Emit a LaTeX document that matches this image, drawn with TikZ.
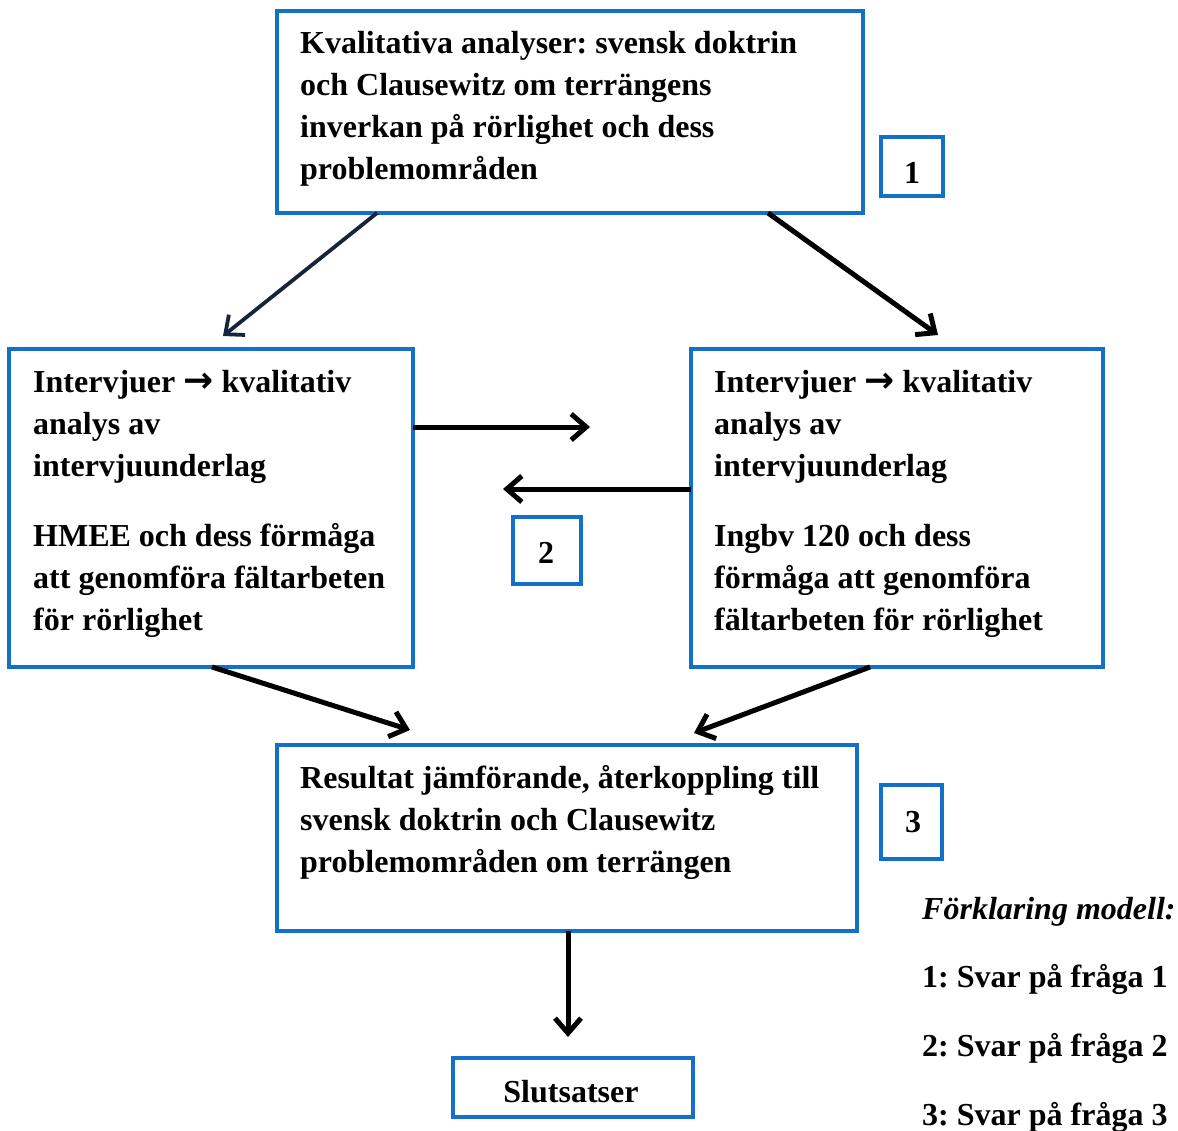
\documentclass[tikz,border=0pt]{standalone}
\usepackage{fontspec}
\setmainfont{Liberation Serif}
\newfontfamily\arrowfont{DejaVu Sans}
\usetikzlibrary{arrows.meta}
\definecolor{boxblue}{RGB}{18,112,200}
\definecolor{navyink}{RGB}{25,35,60}
\frenchspacing
\begin{document}
\frenchspacing
\begin{tikzpicture}[x=1pt,y=-1pt,
  box/.style={draw=boxblue,line width=4pt,rectangle,inner sep=0pt},
  txt/.style={anchor=base west,align=left,inner sep=0pt,font=\fontsize{32}{42.3}\selectfont\bfseries\frenchspacing},
  numtxt/.style={inner sep=0pt,font=\fontsize{32}{38}\selectfont\bfseries},
  conn/.style={line width=5pt,-{Straight Barb[length=15pt,width=26pt]}},
  ]
\useasboundingbox (0,0) rectangle (1178,1131);

% boxes
\node[box,minimum width=586pt,minimum height=202pt] (top) at (570,112) {};
\node[box,minimum width=404pt,minimum height=318pt] (left) at (211,508) {};
\node[box,minimum width=412pt,minimum height=318pt] (right) at (897,508) {};
\node[box,minimum width=580pt,minimum height=186pt] (bottom) at (567,838) {};
\node[box,minimum width=240pt,minimum height=59pt] (slut) at (573,1087.5) {};
\node[box,minimum width=62pt,minimum height=59pt] (b1) at (912,166.5) {};
\node[box,minimum width=68pt,minimum height=67pt] (b2) at (547,550.5) {};
\node[box,minimum width=61pt,minimum height=74pt] (b3) at (911.5,822) {};

% texts (anchor = baseline of last line)
\node[txt] (toptxt) at (300,180) {Kvalitativa analyser: svensk doktrin\\och Clausewitz om terrängens\\inverkan på rörlighet och dess\\problemområden};
\node[txt] (lefttxt1) at (33,476.6) {Intervjuer {\arrowfont\bfseries\fontsize{36}{42.3}\selectfont→} kvalitativ\\analys av\\intervjuunderlag};
\node[txt] (lefttxt2) at (33,630.6) {HMEE och dess förmåga\\att genomföra fältarbeten\\för rörlighet};
\node[txt] (righttxt1) at (714,476.6) {Intervjuer {\arrowfont\bfseries\fontsize{36}{42.3}\selectfont→} kvalitativ\\analys av\\intervjuunderlag};
\node[txt] (righttxt2) at (714,630.6) {Ingbv 120 och dess\\förmåga att genomföra\\fältarbeten för rörlighet};
\node[txt] (bottomtxt) at (300,872.6) {Resultat jämförande, återkoppling till\\svensk doktrin och Clausewitz\\problemområden om terrängen};
\node[numtxt] (slutt) at (571,1092) {Slutsatser};
\node[numtxt] (n1) at (912,172.5) {1};
\node[numtxt] (n2) at (546,553) {2};
\node[numtxt] (n3) at (913,822) {3};

% legend
\node[txt,font=\fontsize{32}{38}\selectfont\bfseries\itshape] (leg0) at (922,919) {Förklaring modell:};
\node[txt] (leg1) at (922,987) {1: Svar på fråga 1};
\node[txt] (leg2) at (922,1056) {2: Svar på fråga 2};
\node[txt] (leg3) at (922,1125) {3: Svar på fråga 3};

% connector end points
\coordinate (tl0) at (377,213);
\coordinate (tl1) at (223,336);
\coordinate (tr0) at (768,213);
\coordinate (tr1) at (938,335);
\coordinate (h10) at (413,427);
\coordinate (h11) at (590,427);
\coordinate (h20) at (691,489);
\coordinate (h21) at (503,489);
\coordinate (bl0) at (212,667);
\coordinate (bl1) at (410,730);
\coordinate (br0) at (870,667);
\coordinate (br1) at (694,733);
\coordinate (d0) at (568,931);
\coordinate (d1) at (568,1037);

\draw[conn,line width=3.8pt,draw=navyink] (tl0) -- (tl1);
\draw[conn] (tr0) -- (tr1);
\draw[conn] (h10) -- (h11);
\draw[conn] (h20) -- (h21);
\draw[conn] (bl0) -- (bl1);
\draw[conn] (br0) -- (br1);
\draw[conn] (d0) -- (d1);
\end{tikzpicture}
\end{document}
